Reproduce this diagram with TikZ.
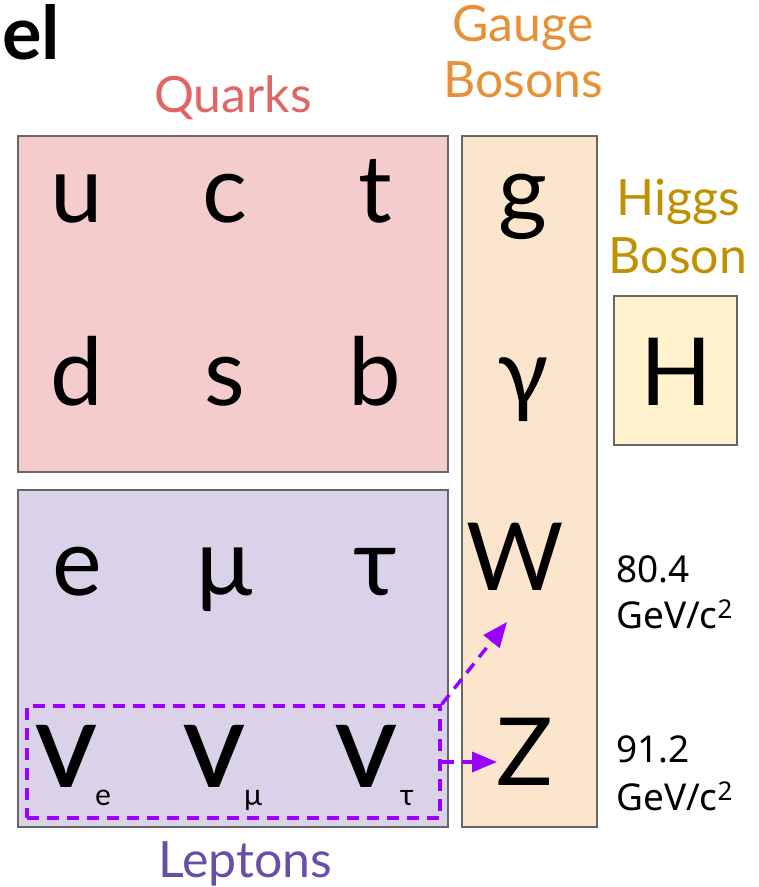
\documentclass[tikz,border=0pt]{standalone}
\usepackage{fontspec}
\setmainfont{Lato}
\newfontfamily\massfont{Noto Sans}
\usetikzlibrary{arrows.meta}
\definecolor{quarkfill}{HTML}{F4CCCC}
\definecolor{leptonfill}{HTML}{D9D2E9}
\definecolor{gaugefill}{HTML}{FCE5CD}
\definecolor{higgsfill}{HTML}{FFF2CC}
\definecolor{boxborder}{HTML}{666666}
\definecolor{quarkcol}{HTML}{E06666}
\definecolor{gaugecol}{HTML}{E69138}
\definecolor{higgscol}{HTML}{BF9000}
\definecolor{leptoncol}{HTML}{674EA7}
\definecolor{nucol}{HTML}{9900FF}
\begin{document}
\begin{tikzpicture}[x=1pt,y=-1pt,
  panel/.style={draw=boxborder,line width=1.5pt,inner sep=0pt,outer sep=0pt},
  big/.style={anchor=base,inner sep=0pt,font=\fontsize{94}{94}\selectfont},
  nu/.style={anchor=base,inner sep=0pt,font=\fontsize{86}{86}\selectfont\bfseries},
  sub/.style={anchor=base,inner sep=0pt,font=\fontsize{30}{30}\selectfont},
  grouplabel/.style={anchor=base,inner sep=0pt,font=\fontsize{50}{50}\selectfont},
  mass/.style={anchor=base west,inner sep=0pt,font=\massfont\fontsize{37}{37}\selectfont},
  nuarrow/.style={draw=nucol,line width=3.5pt,dash pattern=on 12pt off 8pt,
    -{Triangle[length=25pt,width=20pt]}}
]
\useasboundingbox (0,0) rectangle (759,887);

% panels
\path[panel,fill=quarkfill] (18,136) rectangle (448,472);
\path[panel,fill=leptonfill] (18,490) rectangle (448,827);
\path[panel,fill=gaugefill] (462,136) rectangle (597,827);
\path[panel,fill=higgsfill] (614,296) rectangle (737,445);

% title fragment
\node[anchor=base west,inner sep=0pt,font=\fontsize{74}{74}\selectfont\bfseries] (title) at (2,59) {el};

% group labels
\node[grouplabel,text=quarkcol] (quarkslabel) at (233,112) {Quarks};
\node[grouplabel,text=gaugecol] (gaugelabel1) at (523,41) {Gauge};
\node[grouplabel,text=gaugecol] (gaugelabel2) at (523,97) {Bosons};
\node[grouplabel,text=higgscol] (higgslabel1) at (678,215) {Higgs};
\node[grouplabel,text=higgscol] (higgslabel2) at (678,273) {Boson};
\node[grouplabel,text=leptoncol] (leptonslabel) at (245,877) {Leptons};

% quarks
\node[big] (u) at (77,222) {u};
\node[big] (c) at (225,222) {c};
\node[big] (t) at (375,222) {t};
\node[big] (d) at (77,405) {d};
\node[big] (s) at (225,405) {s};
\node[big] (b) at (375,405) {b};

% leptons
\node[big] (e) at (77,595) {e};
\node[big] (mu) at (225,595) {μ};
\node[big] (tau) at (375,595) {τ};
\node[nu] (nue) at (66,787) {V};
\node[sub] (nuesub) at (103,805) {e};
\node[nu] (numu) at (214,787) {V};
\node[sub] (numusub) at (253,805) {μ};
\node[nu] (nutau) at (366,787) {V};
\node[sub] (nutausub) at (407,805) {τ};

% gauge bosons
\node[big] (g) at (523,222) {g};
\node[big] (gamma) at (523,405) {γ};
\node[big] (W) at (515,590) {W};
\node[big] (Z) at (525,785) {Z};

% higgs
\node[big] (H) at (676,405) {H};

% masses
\node[mass] (wmass1) at (616,582) {80.4};
\node[mass] (wmass2) at (616,628) {GeV/c\textsuperscript{2}};
\node[mass] (zmass1) at (616,762) {91.2};
\node[mass] (zmass2) at (616,810) {GeV/c\textsuperscript{2}};

% neutrino group
\node[draw=nucol,line width=3.5pt,dash pattern=on 12pt off 8pt,inner sep=0pt,
  minimum width=413pt,minimum height=112pt] (nugroup) at (233.5,762) {};
\coordinate (wtip) at (507,622);
\coordinate (ztip) at (497,762);
\draw[nuarrow] (nugroup.north east) -- (wtip);
\draw[nuarrow] (nugroup.east) -- (ztip);
\end{tikzpicture}
\end{document}
